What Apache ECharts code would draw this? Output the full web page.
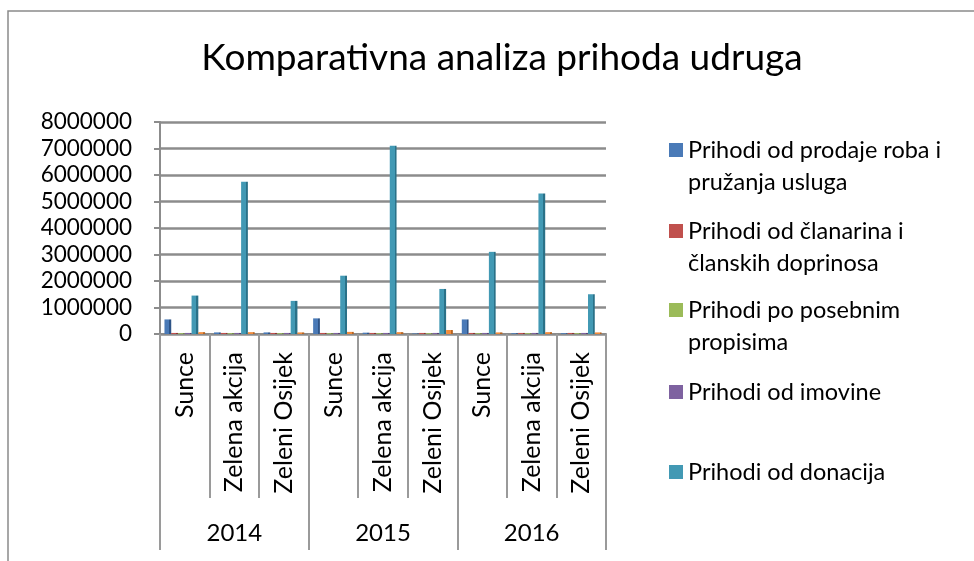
<!DOCTYPE html>
<html>
<head>
<meta charset="utf-8">
<script src="https://cdn.jsdelivr.net/npm/echarts@6/dist/echarts.min.js"></script>
<style>
html,body{margin:0;padding:0;background:#fff;}
#chart{width:974px;height:561px;}
</style>
</head>
<body>
<div id="chart"></div>
<script>
// ---- data ----
const titleText = 'Komparativna analiza prihoda udruga';
const organizations = ['Sunce', 'Zelena akcija', 'Zeleni Osijek', 'Sunce', 'Zelena akcija', 'Zeleni Osijek', 'Sunce', 'Zelena akcija', 'Zeleni Osijek'];
const years = ['2014', '2015', '2016'];
const seriesNames = [
  'Prihodi od prodaje roba i pružanja usluga',
  'Prihodi od članarina i članskih doprinosa',
  'Prihodi po posebnim propisima',
  'Prihodi od imovine',
  'Prihodi od donacija',
  'Ostali prihodi'
];
const legendLabels = [
  'Prihodi od prodaje roba i\npružanja usluga',
  'Prihodi od članarina i\nčlanskih doprinosa',
  'Prihodi po posebnim\npropisima',
  'Prihodi od imovine',
  'Prihodi od donacija'
];
const prodaja   = [550000, 60000, 60000, 590000, 50000, 20000, 550000, 30000, 30000];
const clanarine = [40000, 40000, 40000, 40000, 40000, 40000, 40000, 40000, 40000];
const propisi   = [30000, 30000, 30000, 30000, 30000, 30000, 30000, 30000, 30000];
const imovina   = [40000, 40000, 40000, 40000, 40000, 40000, 40000, 40000, 40000];
const donacije  = [1450000, 5750000, 1250000, 2200000, 7100000, 1700000, 3100000, 5300000, 1500000];
const ostalo    = [70000, 70000, 60000, 80000, 70000, 150000, 60000, 70000, 60000];
const yTicks = { min: 0, max: 8000000, interval: 1000000 };

// ---- styling ----
const FONT = 'Lato';
const mainColors = ['#4a7ab7', '#c0504d', '#9bbb59', '#7e62a0', '#4299b4', '#f28c3c'];
const darkColors = ['#2e5487', '#8c3532', '#6f8a3c', '#574473', '#2a7188', '#b8641f'];
const values = [prodaja, clanarine, propisi, imovina, donacije, ostalo];

const chart = echarts.init(document.getElementById('chart'));

function barColor(i) {
  return new echarts.graphic.LinearGradient(0, 0, 1, 0, [
    { offset: 0, color: mainColors[i] },
    { offset: 0.7, color: mainColors[i] },
    { offset: 0.7, color: darkColors[i] },
    { offset: 1, color: darkColors[i] }
  ]);
}

const series = seriesNames.map((name, i) => ({
  name: name,
  type: 'bar',
  xAxisIndex: 0,
  yAxisIndex: 0,
  data: values[i],
  barGap: '0%',
  barCategoryGap: '18%',
  itemStyle: { color: barColor(i) },
  emphasis: { disabled: true }
}));

// legend layout: first-line centre y for each item
const LH = 32;
const legendCenters = [150, 231, 310, 392, 472];
const twoLineIcon = 'path://M0,0h14v14h-14z M0,46h14';
const legends = legendLabels.map((lab, i) => {
  const twoLines = lab.indexOf('\n') >= 0;
  return {
    left: 669,
    top: legendCenters[i] - LH / 2,
    orient: 'vertical',
    selectedMode: false,
    itemWidth: 14,
    itemHeight: twoLines ? 46 : 14,
    itemGap: 8,
    padding: 0,
    data: [{ name: seriesNames[i], icon: twoLines ? twoLineIcon : 'rect', itemStyle: { color: mainColors[i] } }],
    formatter: () => lab,
    textStyle: { fontFamily: FONT, fontSize: 23.5, color: '#000', lineHeight: LH }
  };
});

const option = {
  animation: false,
  backgroundColor: '#fff',
  textStyle: { fontFamily: FONT },
  title: {
    text: titleText,
    left: 497,
    textAlign: 'center',
    top: 35,
    textStyle: { fontFamily: FONT, fontSize: 37, fontWeight: 'normal', color: '#000' }
  },
  legend: legends,
  grid: { left: 160, right: 368, top: 122, bottom: 227, containLabel: false },
  xAxis: [
    {
      type: 'category',
      data: organizations,
      position: 'bottom',
      axisLine: { show: true, lineStyle: { color: '#8c8c8c', width: 2 } },
      axisTick: { show: true, length: 164, interval: 0, lineStyle: { color: '#9a9a9a', width: 2 } },
      axisLabel: {
        interval: 0, rotate: 90, margin: 18,
        fontFamily: FONT, fontSize: 25, color: '#000'
      },
      splitLine: { show: false }
    },
    {
      type: 'category',
      data: years,
      position: 'bottom',
      axisLine: { show: false },
      axisTick: { show: true, length: 216, interval: 0, lineStyle: { color: '#9a9a9a', width: 2 } },
      axisLabel: { interval: 0, margin: 187, fontFamily: FONT, fontSize: 24, color: '#000' },
      splitLine: { show: false }
    }
  ],
  yAxis: {
    type: 'value',
    min: yTicks.min,
    max: yTicks.max,
    interval: yTicks.interval,
    axisLine: { show: true, lineStyle: { color: '#8c8c8c', width: 2 } },
    axisTick: { show: true, length: 6, lineStyle: { color: '#8c8c8c', width: 2 } },
    axisLabel: { fontFamily: FONT, fontSize: 22.5, color: '#000', margin: 28, formatter: v => String(v) },
    splitLine: { show: true, lineStyle: { color: '#8c8c8c', width: 2.5 } }
  },
  graphic: [
    {
      type: 'rect',
      shape: { x: 8, y: 11, width: 1000, height: 600 },
      style: { fill: 'none', stroke: '#8a8a8a', lineWidth: 1.5 },
      silent: true,
      z: -1
    }
  ],
  series: series
};

chart.setOption(option);
</script>
</body>
</html>
